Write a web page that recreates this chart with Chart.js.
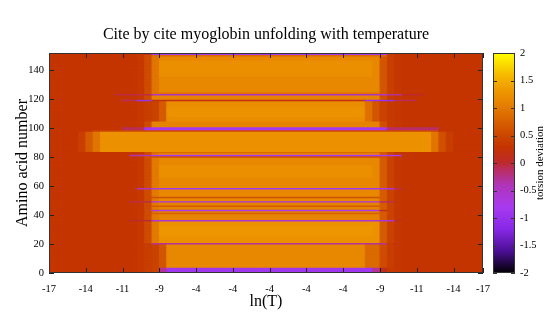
<!DOCTYPE html>
<html><head><meta charset="utf-8">
<script src="https://cdn.jsdelivr.net/npm/chart.js@4"></script>
<style>
html,body{margin:0;padding:0;background:#fff;}
#wrap{position:relative;width:545px;height:327px;overflow:hidden;}
#main{position:absolute;left:0;top:0;}
#cbar{position:absolute;left:483px;top:0;}
</style></head><body>
<div id="wrap"><canvas id="main" width="545" height="327"></canvas><canvas id="cbar" width="62" height="327"></canvas></div>
<script>
// ---------- data ----------
const titleText = 'Cite by cite myoglobin unfolding with temperature';
const xTitle = 'ln(T)';
const yTitle = 'Amino acid number';
const cbTitle = 'torsion deviation';
const nRows = 152;          // residues (rows)
const nCols = 59;           // temperature steps (columns)
const xTickPos = [0,5,10,15,20,25,30,35,40,45,50,55,59];
const xTickLabels = ['-17','-14','-11','-9','-4','-4','-4','-4','-4','-9','-11','-14','-17'];
const yTickValues = [0,20,40,60,80,100,120,140];
const cbTickValues = [-2,-1.5,-1,-0.5,0,0.5,1,1.5,2];
const cbMin = -2, cbMax = 2;

// background (unfolded) level per column
const bgProfile = [0.31,0.31,0.3,0.3,0.3,0.3,0.3,0.3,0.3,0.3,0.3,0.31,0.34,0.4,0.45,
  0.3,0.3,0.3,0.3,0.3,0.3,0.3,0.3,0.3,0.3,0.3,0.3,0.3,0.3,0.3,0.3,0.3,0.3,0.3,0.3,0.3,0.3,0.3,0.3,0.3,0.3,0.3,0.3,0.3,
  0.45,0.4,0.36,0.33,0.3,0.3,0.3,0.3,0.3,0.3,0.3,0.3,0.3,0.3,0.3];

// folded (orange) regions: [rowFrom,rowTo,colFrom,colTo,value]
const foldBlocks = [
  [0,0,15,44,0.9],
  [4,19,15,15,0.65],[4,19,16,42,1.15],[4,19,43,44,0.85],[4,19,45,45,0.55],[4,19,46,46,0.4],
  [21,35,13,13,0.55],[21,35,14,44,1.25],[21,35,45,45,0.7],[21,35,46,46,0.45],
  [37,48,13,13,0.55],[37,48,14,44,1.1],[37,48,45,45,0.7],[37,48,46,46,0.45],
  [50,57,13,13,0.55],[50,57,14,44,1.15],[50,57,45,45,0.7],[50,57,46,46,0.45],
  [59,83,13,13,0.55],[59,83,14,44,1.15],[59,83,45,45,0.7],[59,83,46,46,0.45],
  [84,97,4,4,0.42],[84,97,5,5,0.7],[84,97,6,6,0.95],[84,97,7,51,1.25],[84,97,52,52,0.95],[84,97,53,53,0.6],[84,97,54,54,0.4],
  [101,104,13,13,0.55],[101,104,14,44,1.1],[101,104,45,45,0.6],
  [105,118,15,15,0.7],[105,118,16,42,1.2],[105,118,43,43,0.9],[105,118,44,44,0.65],[105,118,45,45,0.45],
  [120,122,13,13,0.55],[120,122,14,44,1.1],[120,122,45,45,0.6],
  [124,150,13,13,0.55],[124,150,14,44,1.15],[124,150,45,45,0.65],[124,150,46,46,0.42]
];
// lighter / darker texture inside folded regions
const textureBlocks = [
  [66,74,15,43,1.22],[136,146,15,43,1.22],[108,114,16,42,1.26],[26,32,15,43,1.3],
  [124,150,14,14,0.95],[59,83,14,14,1.0],[21,57,14,14,1.0],
  [41,41,14,44,0.75],[46,46,14,44,0.7],[52,52,14,44,0.6],[80,80,13,45,0.6],
  [83,83,14,44,0.85],[98,98,6,52,0.5],[150,150,14,45,0.85],[124,124,14,44,0.9]
];
// negative (purple) stripes
const stripeBlocks = [
  [1,3,15,15,-0.3],[1,3,16,43,-0.9],[1,3,44,44,-0.3],[1,3,45,45,0.1],
  [20,20,14,45,-0.3],
  [36,36,11,13,0.0],[36,36,14,46,-0.55],[36,36,47,47,0.05],
  [43,43,14,44,-0.7],[43,43,45,45,0.1],
  [49,49,11,13,-0.05],[49,49,14,44,-0.7],[49,49,45,46,-0.1],
  [58,58,12,13,-0.5],[58,58,14,46,-0.85],[58,58,47,47,-0.1],
  [81,81,11,13,-0.4],[81,81,14,47,-0.8],
  [99,100,10,12,-0.1],[99,100,13,45,-0.85],[99,100,46,52,-0.15],
  [119,119,10,11,-0.1],[119,119,12,13,-1.0],[119,119,14,42,0.2],[119,119,43,46,-1.0],[119,119,47,49,-0.1],
  [123,123,9,13,-0.05],[123,123,14,45,-0.5],[123,123,46,47,-0.3],[123,123,48,50,0.0],
  [151,151,13,13,0.1],[151,151,14,45,-0.8]
];

// ---------- style ----------
const paletteStops = [
  [-2.0,[0,0,0]],[-1.6,[75,15,150]],[-1.2,[135,40,230]],[-0.8,[168,58,240]],
  [-0.4,[176,52,185]],[-0.1,[186,45,90]],[0.0,[189,42,45]],[0.3,[196,52,0]],
  [0.6,[208,80,0]],[1.0,[226,122,0]],[1.3,[238,150,0]],[1.6,[246,185,0]],[2.0,[255,255,0]]
];
const serif = "'Liberation Serif','DejaVu Serif',serif";
function colorOf(v){
  if (v <= paletteStops[0][0]) return 'rgb(' + paletteStops[0][1].join(',') + ')';
  for (let i = 1; i < paletteStops.length; i++){
    const [v1,c1] = paletteStops[i], [v0,c0] = paletteStops[i-1];
    if (v <= v1){
      const t = (v - v0)/(v1 - v0);
      return 'rgb(' + c0.map((c,k)=>Math.round(c + (c1[k]-c)*t)).join(',') + ')';
    }
  }
  return 'rgb(' + paletteStops[paletteStops.length-1][1].join(',') + ')';
}

// ---------- build heatmap cells ----------
const grid = [];
for (let r = 0; r < nRows; r++) grid.push(bgProfile.slice());
for (const [r0,r1,c0,c1,v] of [...foldBlocks, ...textureBlocks, ...stripeBlocks])
  for (let r = r0; r <= r1; r++) for (let c = c0; c <= c1; c++) grid[r][c] = v;
const bars = [], barColors = [];
for (let r = 0; r < nRows; r++){
  let c = 0;
  while (c < nCols){
    let e = c;
    while (e + 1 < nCols && grid[r][e+1] === grid[r][c]) e++;
    bars.push({x:[c, e + 1], y: r + 0.5});
    barColors.push(colorOf(grid[r][c]));
    c = e + 1;
  }
}

const frameTicks = {
  id: 'frameTicks',
  afterDatasetsDraw(chart){
    const {ctx, chartArea: a, scales: {x, y}} = chart;
    ctx.save();
    ctx.strokeStyle = '#222'; ctx.lineWidth = 1;
    ctx.beginPath();
    x.ticks.forEach(t => {
      const px = Math.round(x.getPixelForValue(t.value)) + 0.5;
      ctx.moveTo(px, a.bottom); ctx.lineTo(px, a.bottom - 5);
      ctx.moveTo(px, a.top); ctx.lineTo(px, a.top + 5);
    });
    y.ticks.forEach(t => {
      const py = Math.round(y.getPixelForValue(t.value)) + 0.5;
      ctx.moveTo(a.left, py); ctx.lineTo(a.left + 5, py);
      ctx.moveTo(a.right, py); ctx.lineTo(a.right - 5, py);
    });
    ctx.stroke();
    ctx.strokeStyle = '#333';
    ctx.strokeRect(Math.round(a.left) + 0.5, Math.round(a.top) + 0.5, Math.round(a.right - a.left) - 1, Math.round(a.bottom - a.top) - 1);
    // title centred over the plot area
    ctx.fillStyle = '#000';
    ctx.font = '16px ' + serif;
    ctx.textAlign = 'center'; ctx.textBaseline = 'middle';
    ctx.fillText(titleText, (a.left + a.right) / 2, 34.5);
    ctx.restore();
  }
};

new Chart(document.getElementById('main'), {
  type: 'bar',
  data: { datasets: [{ data: bars, backgroundColor: barColors, borderWidth: 0,
    barPercentage: 1, categoryPercentage: 1, inflateAmount: 0.5 }] },
  options: {
    indexAxis: 'y', responsive: false, animation: false, devicePixelRatio: 1,
    layout: { padding: { left: 0, right: 62, top: 53, bottom: 0 } },
    plugins: { legend: { display: false }, tooltip: { enabled: false }, title: { display: false } },
    scales: {
      x: { type: 'linear', min: 0, max: nCols, offset: false,
        afterBuildTicks: s => { s.ticks = xTickPos.map(v => ({ value: v })); },
        afterFit: s => { s.height = 54; },
        grid: { display: false, drawTicks: false }, border: { display: false },
        ticks: { autoSkip: false, maxRotation: 0, padding: 10, color: '#000',
          font: { family: serif, size: 10.5 }, callback: (v, i) => xTickLabels[i] },
        title: { display: true, text: xTitle, color: '#000', font: { family: serif, size: 16 },
          padding: { top: 0, bottom: 16 } }
      },
      y: { type: 'linear', min: 0, max: nRows, offset: false,
        afterBuildTicks: s => { s.ticks = yTickValues.map(v => ({ value: v })); },
        afterFit: s => { s.width = 49; },
        grid: { display: false, drawTicks: false }, border: { display: false },
        ticks: { autoSkip: false, padding: 5, color: '#000', font: { family: serif, size: 10.5 },
          callback: v => String(v) },
        title: { display: true, text: yTitle, color: '#000', font: { family: serif, size: 16 },
          padding: { top: 13, bottom: 0 } }
      }
    }
  },
  plugins: [frameTicks]
});

// ---------- colour bar ----------
const cbDecor = {
  id: 'cbDecor',
  afterDatasetsDraw(chart){
    const {ctx, chartArea: a, scales: {y}} = chart;
    ctx.save();
    ctx.strokeStyle = '#333'; ctx.lineWidth = 1;
    ctx.beginPath();
    y.ticks.forEach(t => {
      const py = Math.round(y.getPixelForValue(t.value)) + 0.5;
      ctx.moveTo(a.left, py); ctx.lineTo(a.left + 4, py);
      ctx.moveTo(a.right, py); ctx.lineTo(a.right - 4, py);
    });
    ctx.stroke();
    ctx.strokeRect(Math.round(a.left) + 0.5, Math.round(a.top) + 0.5, Math.round(a.right - a.left) - 1, Math.round(a.bottom - a.top) - 1);
    ctx.fillStyle = '#000';
    ctx.font = '11px ' + serif;
    ctx.textAlign = 'center'; ctx.textBaseline = 'middle';
    ctx.translate(57, (a.top + a.bottom) / 2);
    ctx.rotate(-Math.PI / 2);
    ctx.fillText(cbTitle, 0, 0);
    ctx.restore();
  }
};
new Chart(document.getElementById('cbar'), {
  type: 'bar',
  data: { labels: ['cb'], datasets: [{ data: [[cbMin, cbMax]], borderWidth: 0,
    barPercentage: 1, categoryPercentage: 1, inflateAmount: 0,
    backgroundColor: (c) => {
      const ch = c.chart; const y = ch.scales.y;
      if (!ch.chartArea || !y) return '#c33';
      const g = ch.ctx.createLinearGradient(0, y.getPixelForValue(cbMin), 0, y.getPixelForValue(cbMax));
      paletteStops.forEach(([v, col]) => g.addColorStop((v - cbMin) / (cbMax - cbMin), 'rgb(' + col.join(',') + ')'));
      return g;
    } }] },
  options: {
    responsive: false, animation: false, devicePixelRatio: 1,
    layout: { padding: { left: 10, top: 53, bottom: 54, right: 0 } },
    plugins: { legend: { display: false }, tooltip: { enabled: false } },
    scales: {
      x: { display: false },
      y: { position: 'right', min: cbMin, max: cbMax,
        afterBuildTicks: s => { s.ticks = cbTickValues.map(v => ({ value: v })); },
        afterFit: s => { s.width = 30; },
        grid: { display: false, drawTicks: false }, border: { display: false },
        ticks: { padding: 5, color: '#000', font: { family: serif, size: 10.5 }, callback: v => String(v) } }
    }
  },
  plugins: [cbDecor]
});
</script></body></html>
